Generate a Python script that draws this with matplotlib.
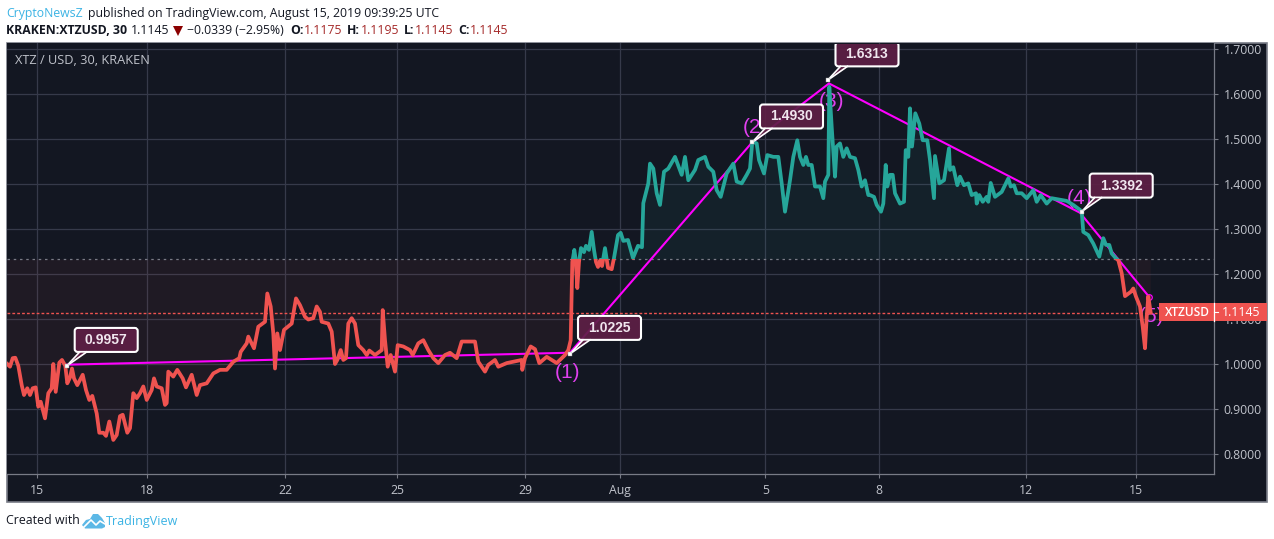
import matplotlib
matplotlib.use('Agg')
import numpy as np
import matplotlib.pyplot as plt
from matplotlib.patches import FancyBboxPatch, Polygon, Rectangle

plt.rcParams['font.family'] = 'Open Sans'

# x is in chart units along the time axis (gaps in the feed make dates uneven)
bar_x = [
    7.3, 10, 12.7, 15.3, 18.3, 21.7, 24, 27.3, 30, 32.7, 35.7, 38.3, 40.7, 45, 48.3, 51.7,
    53.3, 55.7, 59.3, 62, 65.3, 67.3, 70, 72, 74, 77.3, 82.7, 86, 89.3, 92.3, 96.7, 99.3,
    103.3, 106, 109.3, 113.3, 116.7, 120, 122.7, 127.3, 130, 133.3, 136.7, 140, 143.3, 146.7,
    151.7, 154, 156.7, 161.7, 165, 166.7, 168.3, 173.3, 177.3, 182.7, 186, 191.7, 196.7, 200,
    206.7, 213.3, 220, 226.7, 233.3, 239.3, 240.7, 246.7, 248.3, 254, 258.3, 265, 267.3, 270.7,
    273.3, 275, 277.3, 280, 284, 291.7, 296, 300, 305, 308.3, 313.3, 316.7, 320,
    321.7, 328.3, 331.7, 335, 337.3, 340.7, 343.3, 346, 348.3, 351.7, 355, 358.3, 363.3, 366.7,
    369.3, 375, 381.7, 382.7, 385, 387.7, 390.7, 395, 397.7, 403.3, 410, 412.7, 418.3, 423.3,
    428.3, 433.3, 438.3, 445, 450, 456.7, 461.7, 475, 478.3, 485, 488.3, 495, 498.3, 506.7,
    521.7, 522.3, 525, 530.7, 535, 539.3, 546.7, 556.7, 561.7, 565, 568.3, 570.7, 571.7,
    572.3, 574.3, 575.5, 577.3, 579, 581, 584, 586, 589, 591.7, 594, 596, 598, 600.5, 602, 605,
    608, 611.7, 614, 618, 620.7, 623.3, 628, 633, 638, 642, 643.3,
    648.3, 650, 653.3, 656.7, 660, 664, 668.3, 675, 681.7, 685, 688.3, 695, 698.3, 705, 708.3,
    713.3, 716.7, 720.7, 726.7, 733.3, 736.7, 741.7, 746.7, 750, 752.3, 756.7, 759, 764, 767.3,
    773.3, 778.3, 781.7, 785, 790, 793.3, 797.3, 800, 803.3, 806, 808.3, 811.7, 815, 820, 823.3,
    825, 828.3, 829.3, 831.7, 835, 836.7, 840, 843.3, 846.7, 850, 855, 858.3, 861.7, 865, 868.3,
    870, 874, 876.7, 881, 883.3, 885.7, 887.3, 890, 892.7, 895, 900, 904, 905.7, 908.3, 910, 912,
    915.3, 919.3, 922.7, 927.3, 930, 934, 935, 939.3, 944, 949, 950, 953.3, 957.3, 960, 964,
    968.3, 971.7, 976, 976.7, 979.3, 982.7, 986.7, 988.3, 990.7, 995, 1001.7, 1008.3, 1010.7,
    1014, 1016.7, 1021.7, 1026.7, 1033.3, 1036.7, 1040.7, 1046.7, 1051.7, 1061.7, 1066.7, 1073.3,
    1080, 1081.7, 1083.3, 1088.3, 1093.3, 1099.3, 1103.3, 1106, 1109.3, 1111.7, 1116,
    1118.3, 1121.7, 1125, 1131, 1133.3, 1136, 1140, 1142.7, 1145, 1146.7, 1148.3, 1150.7,
]
close = [
    1.000, .994, 1.013, 1.014, .996, .953, .931, .946, .931, .946, .948, .905, .916, .879, .935, .946,
    1.000, .938, 1.003, 1.009, .996, .957, .970, .990, .968, .953, .976, .942, .920, .929, .890, .847,
    .847, .840, .872, .831, .842, .884, .887, .847, .857, .935, .924, .935, .950, .920,
    .942, .968, .950, .946, .909, .913, .983, .972, .987, .968, .948, .976, .931, .953,
    .957, .979, .987, .987, 1.005, 1.013, 1.027, 1.046, 1.061, 1.035, 1.083, 1.094, 1.157, 1.128,
    1.068, .990, 1.068, 1.031, 1.076, 1.090, 1.146, 1.131, 1.105, 1.099, 1.102, 1.128, 1.116,
    1.094, 1.090, 1.072, 1.000, 1.009, 1.031, 1.009, 1.013, 1.090, 1.102, 1.090, 1.042, 1.031, 1.020,
    1.030, 1.020, 1.031, 1.120, 1.053, .994, 1.020, .983, 1.042, 1.039, 1.031, 1.020, 1.046, 1.053,
    1.031, 1.013, 1.002, 1.020, 1.025, 1.013, 1.050, 1.050, 1.005, .983, .998, 1.009, .994, 1.002,
    1.009, .987, 1.013, 1.039, 1.033, 1.002, 1.016, 1.002, 1.013, 1.020, 1.031, 1.053, 1.165,
    1.227, 1.254, 1.236, 1.169, 1.227, 1.258, 1.249, 1.263, 1.254, 1.294, 1.254, 1.227, 1.216, 1.232, 1.218, 1.258,
    1.214, 1.211, 1.236, 1.287, 1.292, 1.274, 1.276, 1.236, 1.263, 1.260, 1.358,
    1.402, 1.446, 1.435, 1.380, 1.354, 1.428, 1.435, 1.461, 1.421, 1.461, 1.409, 1.432, 1.454, 1.461, 1.439,
    1.428, 1.387, 1.372, 1.424, 1.446, 1.406, 1.402, 1.421, 1.435, 1.495, 1.491, 1.454, 1.424, 1.465,
    1.461, 1.461, 1.402, 1.339, 1.409, 1.461, 1.498, 1.461, 1.443, 1.461, 1.443, 1.443, 1.395, 1.395, 1.369,
    1.406, 1.421, 1.617, 1.528, 1.417, 1.484, 1.491, 1.461, 1.480, 1.461, 1.458, 1.432, 1.395, 1.409, 1.376,
    1.376, 1.372, 1.354, 1.339, 1.357, 1.443, 1.395, 1.421, 1.421, 1.380, 1.357, 1.361, 1.476, 1.461, 1.569, 1.484,
    1.558, 1.535, 1.498, 1.498, 1.454, 1.369, 1.463, 1.402, 1.409, 1.480, 1.432, 1.438, 1.398, 1.417, 1.398,
    1.402, 1.376, 1.380, 1.357, 1.376, 1.361, 1.372, 1.361, 1.403, 1.372, 1.383, 1.413, 1.395,
    1.398, 1.380, 1.380, 1.369, 1.387, 1.361, 1.376, 1.357, 1.369, 1.365, 1.363, 1.354,
    1.343, 1.339, 1.294, 1.287, 1.268, 1.239, 1.280, 1.265, 1.265, 1.246, 1.235,
    1.231, 1.202, 1.151, 1.161, 1.168, 1.150, 1.128, 1.083, 1.035, 1.105, 1.150, 1.1145,
]

baseline = 1.2326
last_price = 1.1145

# drawn wave, with the kinks at the labelled turning points
wave_x = [66.7, 570, 752, 829, 1080, 1149]
wave_y = [0.9985, 1.0251, 1.4930, 1.6244, 1.3366, 1.1498]

callout_values = ['0.9957', '1.0225', '1.4930', '1.6313', '1.3392']
callout_x = [66.7, 570, 752, 827.5, 1081.7]
callout_y = [0.9957, 1.0225, 1.4930, 1.6313, 1.3392]

wave_labels = ['(1)', '(2', '(3)', '(4)', '(5)']
wave_label_x = [567, 752, 831, 1079, 1152]
wave_label_y = [0.9800, 1.5260, 1.5840, 1.3690, 1.1050]

date_ticks = [37, 147, 285, 397, 525.3, 620.3, 765.3, 879, 1026, 1136]
date_labels = ['15', '18', '22', '25', '29', 'Aug', '5', '8', '12', '15']
price_ticks = [0.8, 0.9, 1.0, 1.1, 1.2, 1.3, 1.4, 1.5, 1.6, 1.7]

bg = '#131722'
grid_c = '#363a4a'
axis_c = '#787b86'
text_c = '#c0c3cb'
red = '#ef5350'
teal = '#26a69a'
magenta = '#ff00ff'
label_c = '#e040ee'
maroon = '#5e1f45'

fig = plt.figure(figsize=(12.74, 5.39), dpi=100, facecolor='white')

# pixel layer for everything around the plot
ov = fig.add_axes([0, 0, 1, 1], zorder=0)
ov.set_xlim(0, 1274)
ov.set_ylim(539, 0)
ov.axis('off')
ov.add_patch(Rectangle((7, 43), 1260, 459, facecolor=bg, edgecolor=axis_c, lw=1.2))

ax = fig.add_axes([7/1274, (539-474)/539, 1207/1274, 431/539], zorder=1)
ax.set_facecolor(bg)
ax.set_xlim(7, 1214)
ax.set_ylim(1 - 110/449.3, 1 + 321/449.3)
for s in ['top', 'left']:
    ax.spines[s].set_visible(False)
for s in ['right', 'bottom']:
    ax.spines[s].set_color(axis_c)
    ax.spines[s].set_linewidth(0.9)

ax.set_xticks(date_ticks)
ax.set_xticklabels(date_labels)
ax.yaxis.tick_right()
ax.set_yticks(price_ticks)
ax.set_yticklabels(['%.4f' % p for p in price_ticks])
ax.tick_params(axis='both', colors=axis_c, labelcolor=text_c, length=3, width=0.8, labelsize=8.8, pad=4)
ax.tick_params(axis='x', pad=4)
ax.grid(True, color=grid_c, lw=0.9)
ax.set_axisbelow(True)

x = np.array(bar_x)
y = np.array(close)
ax.fill_between(x, y, baseline, where=y <= baseline, interpolate=True, color='#ef5350', alpha=0.06, lw=0, zorder=1)
ax.fill_between(x, y, baseline, where=y >= baseline, interpolate=True, color='#26a69a', alpha=0.07, lw=0, zorder=1)
ax.axhline(baseline, color=axis_c, lw=0.9, ls=(0, (2, 3)), zorder=2)
ax.axhline(last_price, color=red, lw=1.0, ls=(0, (2, 1.5)), zorder=2)

for lab, lx, ly in zip(wave_labels, wave_label_x, wave_label_y):
    ax.text(lx, ly, lab, color=label_c, fontsize=15, ha='center', va='center', zorder=3,
            clip_on=False, fontfamily='Liberation Sans')

ax.plot(wave_x, wave_y, color=magenta, lw=1.5, zorder=4, solid_joinstyle='miter')
ax.plot(wave_x[-1], wave_y[-1], 'o', ms=4, mfc='none', mec=magenta, mew=0.9, zorder=4)

# one line split at the baseline by clipping
top_line, = ax.plot(x, y, color=teal, lw=2.7, zorder=5, solid_joinstyle='round')
low_line, = ax.plot(x, y, color=red, lw=2.7, zorder=5, solid_joinstyle='round')
top_line.set_clip_path(Rectangle((7, baseline), 1207, 1.0, transform=ax.transData))
low_line.set_clip_path(Rectangle((7, baseline - 1.0), 1207, 1.0, transform=ax.transData))

ax.text(15, 60, 'XTZ / USD, 30, KRAKEN', transform=ov.transData, color=text_c, fontsize=9.2,
        va='center', ha='left', zorder=6)


# callouts sit on top of the plot in pixels, tips follow the data
top = fig.add_axes([0, 0, 1, 1], zorder=2)
top.set_xlim(0, 1274)
top.set_ylim(539, 0)
top.axis('off')
top.patch.set_alpha(0)
panel_clip = Rectangle((7, 44), 1207, 430, transform=top.transData)


def callout(value, tx, ty):
    tip = top.transData.inverted().transform(ax.transData.transform((tx, ty)))
    left = tip[0] + 8
    bottom = tip[1] - 14
    h = 24
    w = 63
    box = FancyBboxPatch((left + 2, bottom - h + 2), w - 4, h - 4, boxstyle='round,pad=2,rounding_size=3',
                         facecolor=(0x5e/255, 0x1f/255, 0x45/255, 0.92), edgecolor='white', lw=1.5, zorder=2)
    top.add_patch(box)
    box.set_clip_path(panel_clip)
    base0, base1 = left + 5, left + 12
    tail = Polygon([tip, (base0, bottom + 0.8), (base1, bottom + 0.8)], closed=True,
                   facecolor=maroon, edgecolor='none', zorder=3)
    top.add_patch(tail)
    top.plot([tip[0], base0], [tip[1], bottom], color='white', lw=1.2, zorder=4)
    top.plot([tip[0], base1], [tip[1], bottom], color='white', lw=1.2, zorder=4)
    top.plot(tip[0], tip[1], 's', ms=2.2, mfc='white', mec='#999999', mew=0.3, zorder=5)
    t = top.text(left + w/2, bottom - h/2, value, color='#f0e6ee', fontsize=10, fontweight='bold',
                 fontfamily='Liberation Sans', ha='center', va='center', zorder=5)
    t.set_clip_path(panel_clip)


for v, cx, cy in zip(callout_values, callout_x, callout_y):
    callout(v, cx, cy)

# last price tag
top.add_patch(Rectangle((1159, 303), 108, 18, facecolor=red, edgecolor='none', zorder=6))
top.plot([1214, 1214], [303, 321], color='white', lw=0.9, zorder=7)
top.plot([1214, 1218], [312, 312], color='white', lw=0.8, zorder=7)
top.text(1187, 312, 'XTZUSD', color='white', fontsize=8.6, ha='center', va='center', zorder=7, fontweight='semibold')
top.text(1241, 312, '1.1145', color='white', fontsize=8.8, ha='center', va='center', zorder=7)

# header
hdr = 8.8
dark = '#131722'
dark_red = '#a52a2a'
top.text(6, 13, 'CryptoNewsZ', color='#3bb3e4', fontsize=hdr, va='center')
top.text(88, 13, 'published on TradingView.com, August 15, 2019 09:39:25 UTC', color=dark, fontsize=hdr, va='center')
top.text(6, 30, 'KRAKEN:XTZUSD, 30', color=dark, fontsize=hdr, va='center', fontweight='bold')
top.text(131, 30, '1.1145', color=dark, fontsize=hdr, va='center')
top.add_patch(Polygon([(173, 26), (183, 26), (178, 36)], closed=True, facecolor='#8b0000', edgecolor='none'))
top.text(187, 30, '\u22120.0339 (\u22122.95%)', color=dark, fontsize=hdr, va='center')
for lab, lx, val, vx in [('O:', 290, '1.1175', 304), ('H:', 347, '1.1195', 361),
                         ('L:', 404, '1.1145', 415), ('C:', 458, '1.1145', 470)]:
    top.text(lx, 30, lab, color=dark, fontsize=hdr, va='center', fontweight='bold')
    top.text(vx, 30, val, color=dark_red, fontsize=hdr, va='center')

# footer with the cloud logo
top.text(6, 521, 'Created with', color=dark, fontsize=8.9, va='center')
top.add_patch(Polygon([(82, 525), (86, 520), (90, 519), (93, 514), (98, 514), (102, 518), (105, 523),
                       (105, 527), (102, 528.5), (85, 528.5)], closed=True, facecolor='#5cb8e6', edgecolor='none'))
top.plot([84, 91, 96, 100, 105], [527, 520, 525, 521, 524], color='white', lw=1.2)
top.text(106, 521, 'TradingView', color='#3bb3e4', fontsize=9.0, va='center')

fig.savefig('out.png', dpi=100, facecolor='white')
